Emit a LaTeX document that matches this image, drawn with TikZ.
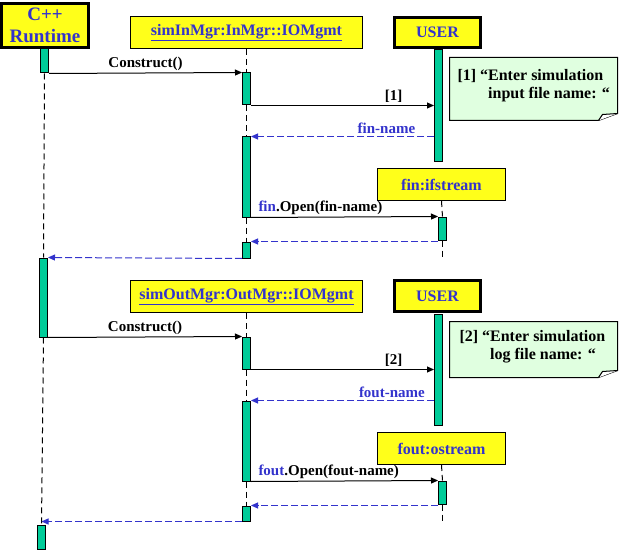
\documentclass[tikz,border=0pt]{standalone}
\usepackage{fontspec}
\setmainfont{Liberation Serif}
\usetikzlibrary{arrows.meta,backgrounds}

\definecolor{headfill}{RGB}{255,255,26}
\definecolor{barfill}{RGB}{0,204,153}
\definecolor{txtblue}{RGB}{51,51,204}
\definecolor{notefill}{RGB}{224,255,224}

\tikzset{
  head/.style={draw,fill=headfill,text=txtblue,inner sep=0pt,font=\fontsize{16}{18}\selectfont\bfseries},
  actor/.style={head,line width=3pt},
  bar/.style={draw,fill=barfill,minimum width=8pt,inner sep=0pt,anchor=north},
  life/.style={black,line width=1pt,dash pattern=on 6pt off 4pt},
  msg/.style={-{Triangle[length=7pt,width=6pt]}},
  ret/.style={txtblue,dash pattern=on 7pt off 3pt,-{Triangle[length=7pt,width=6pt]}},
  lbl/.style={inner sep=2pt,font=\fontsize{15}{17}\selectfont\bfseries},
  notetext/.style={anchor=west,align=left,inner sep=0pt,font=\fontsize{16}{18}\selectfont\bfseries},
  notebox/.style={draw,fill=notefill},
}

\begin{document}
\begin{tikzpicture}[x=1pt,y=-1pt,line width=1pt]
\useasboundingbox (0,0) rectangle (625,551);

\node[actor,minimum width=87pt,minimum height=44pt,align=center,font=\fontsize{19}{22}\selectfont\bfseries] (rt) at (45,25.5) {C++\\Runtime};
\node[head,minimum width=232pt,minimum height=32pt] (inmgr) at (246.5,32.5) {\underline{simInMgr:InMgr::IOMgmt}};
\node[actor,minimum width=86pt,minimum height=30pt] (user) at (437.5,32.5) {USER};
\node[head,minimum width=128pt,minimum height=32pt] (fin) at (441.5,184.5) {fin:ifstream};
\node[head,minimum width=232pt,minimum height=32pt] (outmgr) at (246.5,296.5) {\underline{simOutMgr:OutMgr::IOMgmt}};
\node[actor,minimum width=86pt,minimum height=31pt] (usertwo) at (437.5,296) {USER};
\node[head,minimum width=128pt,minimum height=32pt] (fout) at (441.5,448.5) {fout:ostream};

\node[bar,minimum height=24pt] (rt1) at (44.5,48.5) {};
\node[bar,minimum height=32pt] (in1) at (246.5,72.5) {};
\node[bar,minimum height=80pt] (in2) at (246.5,136.5) {};
\node[bar,minimum height=16pt] (in3) at (246.5,241.5) {};
\node[bar,minimum height=112pt] (user1) at (438.5,49.5) {};
\node[bar,minimum height=23pt] (fin1) at (442.5,216.5) {};
\node[bar,minimum height=79pt] (rt2) at (43.5,257.5) {};
\node[bar,minimum height=32pt] (out1) at (246.5,336.5) {};
\node[bar,minimum height=80pt] (out2) at (246.5,400.5) {};
\node[bar,minimum height=15pt] (out3) at (246.5,505.5) {};
\node[bar,minimum height=111pt] (user2) at (438.5,313.5) {};
\node[bar,minimum height=23pt] (fout1) at (442.5,480.5) {};
\node[bar,minimum height=24pt] (rt3) at (41.5,524.5) {};

\coordinate (finend) at (442.5,257);
\coordinate (foutend) at (442.5,521);

\begin{scope}[on background layer]
\draw[life] (rt1.south) -- (rt2.north);
\draw[life] (rt2.south) -- (rt3.north);
\draw[life] (inmgr.south) -- (in1.north);
\draw[life] (in1.south) -- (in2.north);
\draw[life] (in2.south) -- (in3.north);
\draw[life] (fin.south) -- (fin1.north);
\draw[life] (fin1.south) -- (finend);
\draw[life] (outmgr.south) -- (out1.north);
\draw[life] (out1.south) -- (out2.north);
\draw[life] (out2.south) -- (out3.north);
\draw[life] (fout.south) -- (fout1.north);
\draw[life] (fout1.south) -- (foutend);
\end{scope}

\draw[msg] (rt1.south east) -- node[lbl,above] {Construct()} (in1.north west);
\draw[msg] (in1.south east) -- node[lbl,above,pos=0.78] {[1]} (in1.south east -| user1.west);
\draw[ret] (user1.west |- in2.north) -- node[lbl,above,pos=0.26] {fin-name} (in2.north east);
\draw[msg] (in2.south east) -- node[lbl,above right,pos=0,xshift=5pt] {\textcolor{txtblue}{fin}.Open(fin-name)} (fin1.north west);
\draw[ret] (fin1.west |- in3.north) -- (in3.north east);
\draw[ret] (in3.south west) -- (rt2.north east);

\draw[msg] (rt2.south east) -- node[lbl,above] {Construct()} (out1.north west);
\draw[msg] (out1.south east) -- node[lbl,above,pos=0.78] {[2]} (out1.south east -| user2.west);
\draw[ret] (user2.west |- out2.north) -- node[lbl,above,pos=0.23] {fout-name} (out2.north east);
\draw[msg] (out2.south east) -- node[lbl,above right,pos=0,xshift=5pt] {\textcolor{txtblue}{fout}.Open(fout-name)} (fout1.north west);
\draw[ret] (fout1.west |- out3.north) -- (out3.north east);
\draw[ret] (out3.south west) -- (out3.south west -| rt3.north);

\draw[notebox] (449.5,57.5) -- (617.5,57.5) -- (617.5,113.5) -- (598.5,120.5) -- (449.5,120.5) -- cycle;
\draw[fill=white] (598.5,120.5) -- (602.5,114.5) -- (617.5,113.5);
\node[notetext] (note1) at (457,86) {[1] “Enter simulation\\\hphantom{[1] “}input file name: “};

\draw[notebox] (449.5,321.5) -- (617.5,321.5) -- (617.5,370.5) -- (598.5,377.5) -- (449.5,377.5) -- cycle;
\draw[fill=white] (598.5,377.5) -- (602.5,371.5) -- (617.5,370.5);
\node[notetext] (note2) at (459,346.5) {[2] “Enter simulation\\\hphantom{[2] “}log file name: “};
\end{tikzpicture}
\end{document}
